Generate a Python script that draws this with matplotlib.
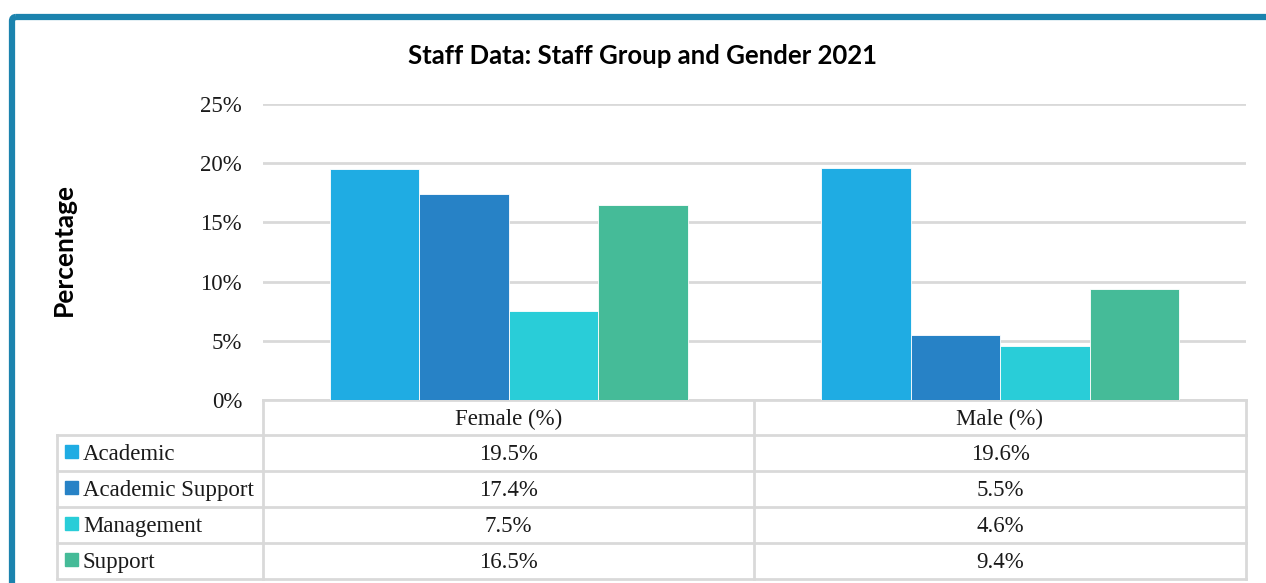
import matplotlib.pyplot as plt
from matplotlib.patches import Rectangle, FancyBboxPatch
import numpy as np

# data
groups = ['Female (%)', 'Male (%)']
staff_groups = ['Academic', 'Academic Support', 'Management', 'Support']
female = [19.5, 17.4, 7.5, 16.5]
male = [19.6, 5.5, 4.6, 9.4]
colors = ['#1FACE3', '#2782C6', '#29CDD8', '#45BB98']

W, H = 1266, 583
fig = plt.figure(figsize=(W / 100, H / 100), dpi=100)
serif = 'Liberation Serif'
grey = '#D9D9D9'
fs = 16.5

# overlay axes in pixel coordinates (frame + table)
bg = fig.add_axes([0, 0, 1, 1])
bg.set_xlim(0, W)
bg.set_ylim(H, 0)
bg.axis('off')

# blue frame (cut off on right and bottom)
bg.add_patch(FancyBboxPatch((12, 17), W + 40, H + 40,
                            boxstyle='round,pad=0,rounding_size=4',
                            fill=False, ec='#1B83AE', lw=4.5))

# bar chart
x0, x1, y0, y1 = 263, 1246, 400, 104
ax = fig.add_axes([x0 / W, (H - y0) / H, (x1 - x0) / W, (y0 - y1) / H])
ax.set_zorder(2)
ax.patch.set_alpha(0)
ax.set_xlim(-0.5, 1.5)
ax.set_ylim(0, 25)
ax.set_yticks(np.arange(0, 26, 5))
ax.set_yticklabels([f'{v}%' for v in range(0, 26, 5)], fontfamily=serif, fontsize=fs, color='#1a1a1a')
ax.tick_params(axis='y', length=0, pad=15)
ax.set_xticks([])
ax.grid(axis='y', color=grey, lw=2)
ax.set_axisbelow(True)
for s in ax.spines.values():
    s.set_visible(False)

bw = 0.182
xs = np.arange(len(groups))
for i, name in enumerate(staff_groups):
    vals = [female[i], male[i]]
    ax.bar(xs + (i - 1.5) * bw, vals, width=bw, color=colors[i],
           edgecolor='white', linewidth=0.6, zorder=3)

ax.set_ylabel('Percentage', fontfamily='Lato', fontweight='bold', fontsize=19)
ax.yaxis.set_label_coords((76 - x0) / (x1 - x0), 0.51)
fig.text(643 / W, 1 - 56 / H, 'Staff Data: Staff Group and Gender 2021',
         fontfamily='Lato', fontweight='bold', fontsize=18.5, ha='center', va='center')

# data table
col_edges = [263, 754, 1246]
row_edges = [400, 435, 471, 507, 543, 579]
left = 57
lw = 2
bg.plot([col_edges[0], col_edges[-1]], [row_edges[0], row_edges[0]], color=grey, lw=lw)
for r in row_edges[1:]:
    bg.plot([left, col_edges[-1]], [r, r], color=grey, lw=lw)
for c in col_edges:
    bg.plot([c, c], [row_edges[0], row_edges[-1]], color=grey, lw=lw)
bg.plot([left, left], [row_edges[1], row_edges[-1]], color=grey, lw=lw)

for j, g in enumerate(groups):
    cx = (col_edges[j] + col_edges[j + 1]) / 2
    bg.text(cx, (row_edges[0] + row_edges[1]) / 2 - 1, g, fontfamily=serif,
            fontsize=fs, ha='center', va='center_baseline', color='#1a1a1a')

series = [female, male]
for i, name in enumerate(staff_groups):
    cy = (row_edges[i + 1] + row_edges[i + 2]) / 2
    bg.add_patch(Rectangle((65, cy - 8), 13, 13, color=colors[i]))
    bg.text(83, cy - 1, name, fontfamily=serif, fontsize=fs, ha='left', va='center_baseline', color='#1a1a1a')
    for j in range(len(groups)):
        cx = (col_edges[j] + col_edges[j + 1]) / 2
        bg.text(cx, cy - 1, f'{series[j][i]:.1f}%', fontfamily=serif, fontsize=fs,
                ha='center', va='center_baseline', color='#1a1a1a')

fig.savefig('out.png', dpi=100)
